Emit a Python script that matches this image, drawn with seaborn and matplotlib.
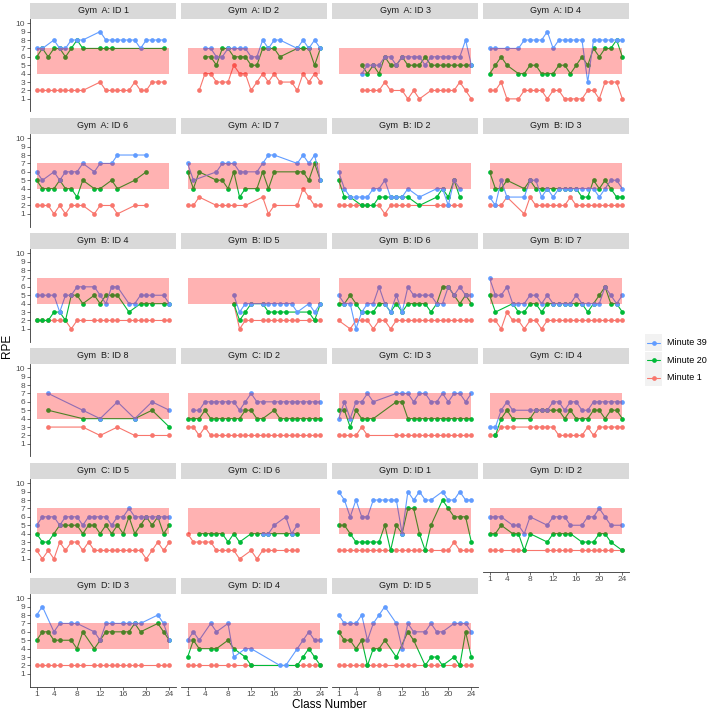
import pandas as pd
import matplotlib
matplotlib.use("Agg")
import matplotlib.pyplot as plt
import seaborn as sns
from matplotlib.lines import Line2D
from matplotlib.patches import Rectangle

X = None

panels = ["Gym  A: ID 1", "Gym  A: ID 2", "Gym  A: ID 3", "Gym  A: ID 4",
          "Gym  A: ID 6", "Gym  A: ID 7", "Gym  B: ID 2", "Gym  B: ID 3",
          "Gym  B: ID 4", "Gym  B: ID 5", "Gym  B: ID 6", "Gym  B: ID 7",
          "Gym  B: ID 8", "Gym  C: ID 2", "Gym  C: ID 3", "Gym  C: ID 4",
          "Gym  C: ID 5", "Gym  C: ID 6", "Gym  D: ID 1", "Gym  D: ID 2",
          "Gym  D: ID 3", "Gym  D: ID 4", "Gym  D: ID 5"]

classes = list(range(1, 25))

# RPE per class (1..24), one row per panel
min39 = [
    [7,7,X,8,7,7,8,8,8,X,X,9,8,8,8,8,8,8,7,8,8,8,8,X],
    [X,X,X,7,7,6,6,7,7,7,7,6,6,8,7,8,8,X,X,7,8,7,8,7],
    [X,X,X,X,4,5,5,5,6,6,5,6,6,6,6,5,6,6,6,6,6,6,8,5],
    [7,7,X,7,X,7,8,8,8,8,9,7,8,8,8,8,8,3,8,8,8,8,8,8],
    [6,5,X,6,5,6,6,6,7,X,6,7,X,7,8,X,X,8,X,8,X,X,X,X],
    [7,5,X,X,X,6,7,7,7,6,6,X,6,7,8,8,X,X,X,7,8,7,8,5],
    [6,4,3,3,3,3,4,4,5,3,3,3,4,X,3,X,X,4,4,2,5,4,X,X],
    [3,2,5,3,X,X,3,5,5,3,4,3,4,4,4,4,4,4,4,3,4,5,5,4],
    [5,5,5,5,3,5,5,6,6,X,6,5,4,6,6,X,4,4,5,5,5,X,5,4],
    [X,X,X,X,X,X,X,X,5,3,4,4,X,4,4,4,4,4,4,3,X,4,3,4],
    [5,4,4,1,3,4,4,6,4,3,5,3,6,5,5,5,5,4,4,6,5,6,5,5],
    [7,5,5,6,4,4,4,5,5,4,5,4,4,4,4,5,4,4,4,4,6,5,4,5],
    [X,X,7,X,X,X,X,X,5,X,X,4,X,X,6,X,X,4,X,X,6,X,X,5],
    [X,5,5,6,6,6,6,6,6,5,6,7,6,6,X,6,6,6,6,6,6,6,6,6],
    [4,6,4,6,6,7,6,X,X,X,7,7,7,6,7,7,6,6,7,6,7,7,6,7],
    [3,3,5,6,5,X,X,5,5,5,5,6,6,5,6,6,5,5,6,6,6,6,6,6],
    [5,6,6,6,5,6,6,6,5,6,6,6,6,5,6,6,7,6,6,6,6,6,6,6],
    [X,X,X,X,X,X,X,X,X,X,X,X,X,4,4,5,X,6,4,5,X,X,X,X],
    [9,8,6,8,6,6,8,8,8,8,8,4,9,8,9,8,8,X,9,8,8,9,8,8],
    [6,6,6,X,5,5,4,6,X,X,5,6,6,6,5,X,5,6,6,7,6,5,X,5],
    [8,9,X,6,7,X,7,7,X,X,6,5,7,7,X,7,7,7,7,X,X,8,7,5],
    [5,6,5,X,7,6,X,7,3,X,4,4,X,X,X,X,2,2,X,4,5,6,5,5],
    [8,7,7,7,8,5,7,8,9,X,7,4,7,6,X,6,7,6,6,X,7,7,7,6],
]

min20 = [
    [6,7,6,7,7,6,7,8,7,X,X,7,7,7,X,X,X,X,X,X,X,X,7,X],
    [X,X,X,6,6,5,7,7,6,6,6,5,5,7,7,7,6,X,X,7,7,7,5,7],
    [X,X,X,X,5,4,5,4,6,5,5,6,5,5,5,6,5,5,5,5,5,5,5,5],
    [4,5,6,5,X,4,4,5,5,4,4,4,5,5,4,5,6,5,7,6,7,7,8,6],
    [5,4,4,4,5,4,4,3,5,X,4,4,X,5,4,X,X,5,X,6,X,X,X,X],
    [6,4,6,X,X,5,5,4,6,3,4,X,4,6,4,6,X,X,X,6,6,5,7,5],
    [5,3,3,X,2,2,2,3,3,3,3,3,3,X,2,X,X,3,4,3,5,3,X,X],
    [6,4,4,5,X,X,4,5,4,4,4,4,4,4,4,4,3,3,5,4,5,4,3,3],
    [2,2,2,3,3,2,5,5,4,X,5,4,5,5,5,X,3,X,4,4,4,X,4,4],
    [X,X,X,X,X,X,X,X,4,2,3,4,X,4,3,3,3,3,X,X,X,3,2,4],
    [4,4,5,4,3,3,3,4,4,3,4,3,4,4,4,4,3,4,6,6,5,4,5,4],
    [5,3,X,X,4,3,3,4,4,3,4,4,4,4,4,4,4,3,4,5,6,4,4,3],
    [X,X,5,X,X,X,X,X,4,X,X,4,X,X,X,X,X,4,X,X,5,X,X,3],
    [4,4,4,5,4,4,4,4,4,4,5,5,4,4,X,5,4,4,4,4,4,4,4,4],
    [5,5,3,5,4,4,4,X,X,X,6,6,4,4,4,4,4,4,4,4,4,4,4,4],
    [X,2,4,5,4,X,X,4,5,5,5,5,5,4,5,4,4,4,5,5,4,5,5,4],
    [4,3,3,4,5,5,5,5,4,5,5,4,5,4,5,4,6,4,5,6,5,6,4,5],
    [X,X,4,4,4,4,4,3,4,3,X,4,4,4,4,4,X,4,4,4,X,X,X,X],
    [5,5,4,3,3,3,3,3,5,2,5,4,7,7,4,2,5,X,8,7,6,6,6,3],
    [4,4,5,X,4,4,2,4,X,X,3,4,4,4,4,X,3,3,3,4,4,3,X,2],
    [5,6,6,5,5,X,5,4,6,X,4,5,6,6,X,6,6,7,6,X,X,7,6,5],
    [3,5,4,X,4,4,X,5,4,X,3,2,X,X,X,X,X,X,X,2,3,4,3,2],
    [6,5,5,4,5,2,4,4,5,X,3,X,6,5,X,2,3,3,2,X,3,2,6,3],
]

min1 = [
    [2,2,2,2,2,2,2,2,2,X,X,3,2,2,2,2,2,3,2,2,3,3,3,X],
    [X,X,2,4,4,3,3,3,5,4,4,2,3,4,3,4,3,X,3,2,4,3,4,3],
    [X,X,X,X,2,2,2,2,3,2,X,2,1,2,1,X,2,2,2,2,2,3,2,1],
    [2,2,3,1,X,1,2,2,2,2,1,2,2,1,1,1,1,2,2,1,3,3,3,1],
    [2,2,2,1,2,1,2,2,2,X,1,2,X,2,1,X,X,2,X,2,X,X,X,X],
    [2,2,3,X,X,2,2,2,2,X,2,X,X,3,1,2,X,X,X,2,4,3,2,2],
    [2,2,2,2,2,2,X,2,1,2,2,2,2,X,X,X,X,2,2,2,2,2,X,X],
    [2,2,2,3,X,X,1,3,2,2,2,2,2,2,3,2,2,2,2,2,2,2,2,2],
    [2,2,2,2,2,2,1,2,2,X,2,2,2,2,2,X,2,2,2,2,2,X,2,2],
    [X,X,X,X,X,X,X,X,4,1,2,2,X,2,2,2,2,2,2,2,X,2,2,2],
    [2,X,1,2,2,2,1,2,2,1,2,2,2,2,2,2,2,2,2,2,2,2,2,2],
    [2,2,1,3,2,2,1,2,2,1,2,2,2,2,2,2,2,2,2,2,2,2,2,2],
    [X,X,3,X,X,X,X,X,3,X,X,2,X,X,3,X,X,2,X,X,2,X,X,2],
    [3,3,2,3,2,2,2,2,2,2,2,2,2,2,2,2,2,2,2,2,2,2,2,2],
    [2,2,2,2,3,2,X,X,X,X,2,2,2,2,2,2,2,2,2,2,2,2,2,2],
    [2,2,3,3,3,X,X,3,3,3,3,3,2,2,2,2,2,3,2,3,3,3,3,3],
    [2,1,2,1,3,2,3,3,2,3,2,2,2,2,2,2,2,2,2,1,2,3,2,3],
    [4,3,3,3,3,2,2,2,2,1,X,2,1,2,2,2,X,2,2,2,X,X,X,X],
    [2,2,2,2,2,2,2,2,2,2,2,2,2,2,2,2,2,X,2,2,3,2,2,2],
    [2,2,2,X,2,2,2,X,X,X,2,2,2,2,2,X,2,2,2,2,2,2,X,2],
    [2,2,2,2,2,X,2,2,2,X,2,2,2,2,2,2,2,2,2,X,X,2,2,2],
    [2,2,2,X,2,2,X,2,2,X,2,2,X,X,X,X,X,X,X,2,2,2,2,2],
    [2,2,2,2,2,2,2,2,2,X,2,2,2,2,X,2,2,2,X,X,2,2,2,2],
]

minutes = ["Minute 1", "Minute 20", "Minute 39"]
colors = {"Minute 1": "#F8766D", "Minute 20": "#00BA38", "Minute 39": "#619CFF"}
xticks = [1, 4, 8, 12, 16, 20, 24]
yticks = list(range(1, 11))

rows = []
for p, name in enumerate(panels):
    for label, series in zip(minutes, [min1, min20, min39]):
        for c, v in zip(classes, series[p]):
            if v is not None:
                rows.append((name, label, c, v))
df = pd.DataFrame(rows, columns=["panel", "minute", "cls", "rpe"])

sns.set_theme(style="white")
plt.rcParams["font.family"] = ["Liberation Sans", "DejaVu Sans"]

W, H = 709, 712
fig = plt.figure(figsize=(W / 100, H / 100), dpi=100)

col_x = [30, 181, 332, 483]
pw, ph = 146, 92.5
tick_col = "#4D4D4D"

for i, name in enumerate(panels):
    r, c = divmod(i, 4)
    x0 = col_x[c]
    top = 19 + 115 * r
    # strip
    sax = fig.add_axes([x0 / W, 1 - top / H, pw / W, 16.3 / H])
    sax.set_facecolor("#D9D9D9")
    sax.set_xticks([])
    sax.set_yticks([])
    for s in sax.spines.values():
        s.set_visible(False)
    sax.text(0.5, 0.5, name, ha="center", va="center", fontsize=6.5,
             color="#1A1A1A", transform=sax.transAxes)

    ax = fig.add_axes([x0 / W, 1 - (top + ph) / H, pw / W, ph / H])
    sub = df[df["panel"] == name]
    sns.lineplot(data=sub, x="cls", y="rpe", hue="minute", hue_order=minutes,
                 palette=colors, marker="o", markersize=3.4, markeredgewidth=0,
                 linewidth=0.8, estimator=None, errorbar=None, legend=False, ax=ax)
    ax.fill_between([1, 24], 4, 7, color="red", alpha=0.3, linewidth=0, zorder=5)
    ax.set_xlim(-0.15, 25.15)
    ax.set_ylim(-0.5, 10.5)
    ax.set_xticks(xticks)
    ax.set_yticks(yticks)
    ax.set_xlabel("")
    ax.set_ylabel("")
    ax.set_facecolor("white")
    for s in ax.spines.values():
        s.set_visible(False)

    left = c == 0
    bottom = i >= 19
    ax.tick_params(axis="y", left=left, labelleft=left, length=2.5, width=0.5,
                   pad=1, labelsize=6, labelcolor=tick_col, color="#333333")
    ax.tick_params(axis="x", bottom=bottom, labelbottom=bottom, length=2.5,
                   width=0.5, pad=1, labelsize=6, labelcolor=tick_col, color="#333333")
    if left:
        ax.spines["left"].set_visible(True)
        ax.spines["left"].set_color("#333333")
        ax.spines["left"].set_linewidth(0.6)
    if bottom:
        ax.spines["bottom"].set_visible(True)
        ax.spines["bottom"].set_color("#333333")
        ax.spines["bottom"].set_linewidth(0.6)

fig.text(329 / W, 1 - 705 / H, "Class Number", ha="center", va="center",
         fontsize=8.5, color="black")
fig.text(7 / W, 1 - 346 / H, "RPE", ha="center", va="center", rotation=90,
         fontsize=8.5, color="black")

# legend (reversed order like the reference)
lax = fig.add_axes([645 / W, 1 - 387 / H, 64 / W, 53 / H])
lax.set_xlim(0, 64)
lax.set_ylim(53, 0)
lax.axis("off")
for k, label in enumerate(["Minute 39", "Minute 20", "Minute 1"]):
    y0 = k * 17.6
    lax.add_patch(Rectangle((0, y0), 17, 17, facecolor="#F2F2F2", edgecolor="none"))
    lax.add_line(Line2D([2, 15], [y0 + 8.5, y0 + 8.5], color=colors[label],
                        linewidth=0.8, marker="o", markevery=[], ))
    lax.plot([8.5], [y0 + 8.5], marker="o", markersize=3.4, markeredgewidth=0,
             color=colors[label])
    lax.text(22, y0 + 8.5, label, ha="left", va="center", fontsize=6.5, color="black")

fig.savefig("out.png", dpi=100)
